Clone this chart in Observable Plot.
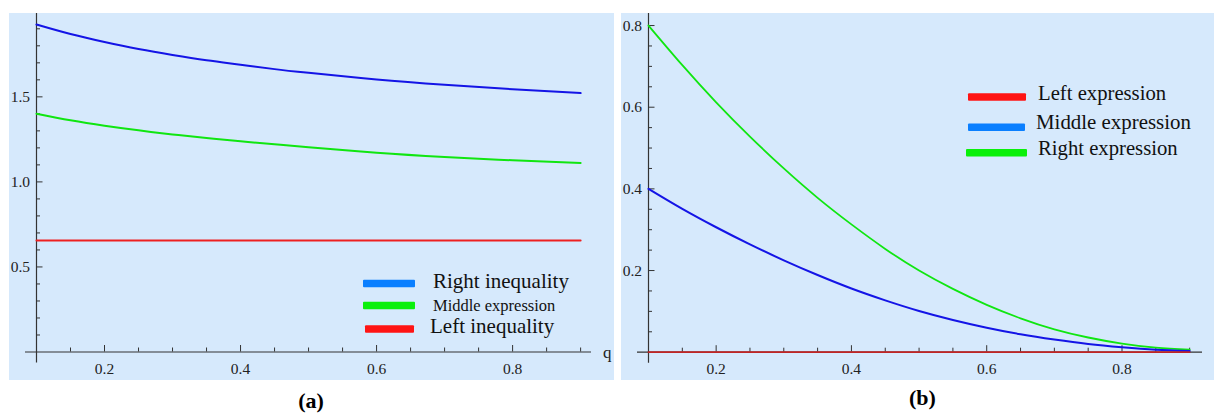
<!DOCTYPE html>
<html><head><meta charset="utf-8">
<script src="https://cdn.jsdelivr.net/npm/d3@7"></script>
<script src="https://cdn.jsdelivr.net/npm/@observablehq/plot@0.6"></script>
<style>
body{margin:0;background:#fff;}
#wrap{position:relative;width:1214px;height:416px;overflow:hidden;font-family:"Liberation Serif","Times New Roman",serif;}
#pa{position:absolute;left:9px;top:13px;}
#pb{position:absolute;left:621px;top:13px;}
#overlay{position:absolute;left:0;top:0;pointer-events:none;}
#wrap svg, #wrap svg text{font-family:"Liberation Serif","Times New Roman",serif !important;}
</style></head>
<body>
<div id="wrap"><div id="pa"></div><div id="pb"></div><svg id="overlay" width="1214" height="416"></svg></div>
<script>
// ---- Panel (a) data ----
const qA = [0.1,0.15,0.2,0.25,0.3,0.35,0.4,0.45,0.5,0.6,0.7,0.8,0.9];
const rightInequalityA = [1.925,1.869,1.822,1.781,1.746,1.715,1.689,1.663,1.641,1.602,1.571,1.545,1.522];
const middleExpressionA = [1.401,1.362,1.330,1.303,1.279,1.258,1.239,1.221,1.204,1.172,1.147,1.127,1.111];
const leftInequalityA = [0.656,0.656,0.656,0.656,0.656,0.656,0.656,0.656,0.656,0.656,0.656,0.656,0.656];

// ---- Panel (b) data ----
const qB = [0.1,0.15,0.2,0.25,0.3,0.35,0.4,0.45,0.5,0.55,0.6,0.65,0.7,0.75,0.8,0.85,0.9];
const leftExpressionB = [0,0,0,0,0,0,0,0,0,0,0,0,0,0,0,0,0];
const middleExpressionB = [0.400,0.351,0.306,0.264,0.225,0.189,0.156,0.127,0.101,0.079,0.060,0.044,0.031,0.020,0.012,0.006,0.003];
const rightExpressionB = [0.800,0.703,0.612,0.528,0.450,0.378,0.313,0.253,0.200,0.155,0.116,0.083,0.056,0.036,0.021,0.011,0.006];

// ---- Ticks ----
const xMajor = [0.2,0.4,0.6,0.8];
const xMinor = [0.15,0.25,0.3,0.35,0.45,0.5,0.55,0.65,0.7,0.75,0.85,0.9];
const yMajorA = [0.5,1.0,1.5];
const yMinorA = [0.1,0.2,0.3,0.4,0.6,0.7,0.8,0.9,1.1,1.2,1.3,1.4,1.6,1.7,1.8,1.9];
const yMajorB = [0.2,0.4,0.6,0.8];
const yMinorB = [0.05,0.1,0.15,0.25,0.3,0.35,0.45,0.5,0.55,0.65,0.7,0.75];

// ---- Legends / labels ----
const legendA = ["Right inequality","Middle expression","Left inequality"];
const legendB = ["Left expression","Middle expression","Right expression"];
const panelLabels = ["(a)","(b)"];
const axisName = "q";

const BG = "#d6e9fc", AX = "#333", TXT = "#222";
const LINE_BLUE = "#1414e6", LINE_GREEN = "#10e610", LINE_RED = "#ee2020";
const SW_BLUE = "#0a7fff", SW_GREEN = "#0af00a", SW_RED = "#ff1414";
const SERIF = "Liberation Serif";

function rows(q, v){ return q.map((x,i)=>({q:x, v:v[i]})); }

function panel(o){
  const fmt = d => d.toFixed(1);
  return Plot.plot({
    width:o.width, height:367,
    marginLeft:27, marginRight:o.marginRight, marginTop:0, marginBottom:o.marginBottom,
    x:{domain:o.xDomain}, y:{domain:o.yDomain},
    style:{background:BG, fontFamily:SERIF, fontSize:"15.5px", color:TXT, overflow:"visible"},
    marks:[
      Plot.axisY(o.yMajor,{anchor:"left", tickSize:0, tickPadding:6.5, tickFormat:fmt, fill:TXT, fontSize:15.5, fontFamily:SERIF, label:null}),
      Plot.axisY(o.yMajor,{anchor:"left", tickSize:6.5, dx:6.5, fill:"none", stroke:AX, label:null}),
      Plot.axisY(o.yMinor,{anchor:"left", tickSize:4, dx:4, fill:"none", stroke:AX, label:null}),
      Plot.axisX(xMajor,{anchor:"bottom", tickSize:0, tickPadding:11, tickFormat:fmt, fill:TXT, fontSize:15.5, fontFamily:SERIF, label:null}),
      Plot.axisX(xMajor,{anchor:"bottom", tickSize:6.5, dy:-6.5, fill:"none", stroke:AX, label:null}),
      Plot.axisX(xMinor,{anchor:"bottom", tickSize:4, dy:-4, fill:"none", stroke:AX, label:null}),
      Plot.ruleY([0],{insetLeft:-11, stroke:AX, strokeWidth:1.2}),
      Plot.ruleX([0.1],{insetBottom:-11, stroke:AX, strokeWidth:1.2}),
      ...o.series.map(s => Plot.line(s.data,{x:"q", y:"v", stroke:s.color, strokeWidth:s.width, curve:"natural"}))
    ]
  });
}

document.getElementById("pa").append(panel({
  width:605, marginRight:23, marginBottom:28.5,
  xDomain:[0.1,0.916], yDomain:[0,1.99],
  yMajor:yMajorA, yMinor:yMinorA,
  series:[
    {data:rows(qA,leftInequalityA), color:LINE_RED, width:2},
    {data:rows(qA,middleExpressionA), color:LINE_GREEN, width:2},
    {data:rows(qA,rightInequalityA), color:LINE_BLUE, width:2}
  ]
}));

document.getElementById("pb").append(panel({
  width:593, marginRight:12, marginBottom:28.3,
  xDomain:[0.1,0.919], yDomain:[0,0.8295],
  yMajor:yMajorB, yMinor:yMinorB,
  series:[
    {data:rows(qB,rightExpressionB), color:LINE_GREEN, width:1.8},
    {data:rows(qB,middleExpressionB), color:LINE_BLUE, width:2},
    {data:rows(qB,leftExpressionB), color:"#c02424", width:1.8}
  ]
}));

// ---- Overlay text: legends, axis name, panel labels ----
const ov = d3.select("#overlay");
function legend(items){
  items.forEach(it=>{
    ov.append("rect").attr("x",it.rx).attr("y",it.ry-3.8).attr("width",it.rw).attr("height",7.6).attr("rx",1).attr("fill",it.color);
    ov.append("text").attr("x",it.tx).attr("y",it.ty).attr("font-family",SERIF).attr("font-size",it.fs).attr("fill","#111").text(it.label);
  });
}
legend([
  {label:legendA[0], color:SW_BLUE,  rx:363, ry:283.5, rw:52, tx:433, ty:287.5, fs:21},
  {label:legendA[1], color:SW_GREEN, rx:363, ry:305.5, rw:52, tx:433, ty:310.8, fs:16.5},
  {label:legendA[2], color:SW_RED,   rx:365, ry:329,   rw:49, tx:430, ty:333,   fs:21},
  {label:legendB[0], color:SW_RED,   rx:968, ry:97,    rw:58, tx:1038, ty:99.5, fs:20.7},
  {label:legendB[1], color:SW_BLUE,  rx:968, ry:127.3, rw:57, tx:1036, ty:128.5, fs:20.9},
  {label:legendB[2], color:SW_GREEN, rx:966, ry:152.8, rw:61, tx:1038, ty:155, fs:20.7}
]);
ov.append("text").attr("x",603).attr("y",358).attr("font-family",SERIF).attr("font-size",17).attr("fill",TXT).text(axisName);
ov.append("text").attr("x",311).attr("y",408).attr("text-anchor","middle").attr("font-family",SERIF).attr("font-weight","bold").attr("font-size",22).attr("fill","#000").text(panelLabels[0]);
ov.append("text").attr("x",922.5).attr("y",405).attr("text-anchor","middle").attr("font-family",SERIF).attr("font-weight","bold").attr("font-size",22).attr("fill","#000").text(panelLabels[1]);
</script>
</body></html>
